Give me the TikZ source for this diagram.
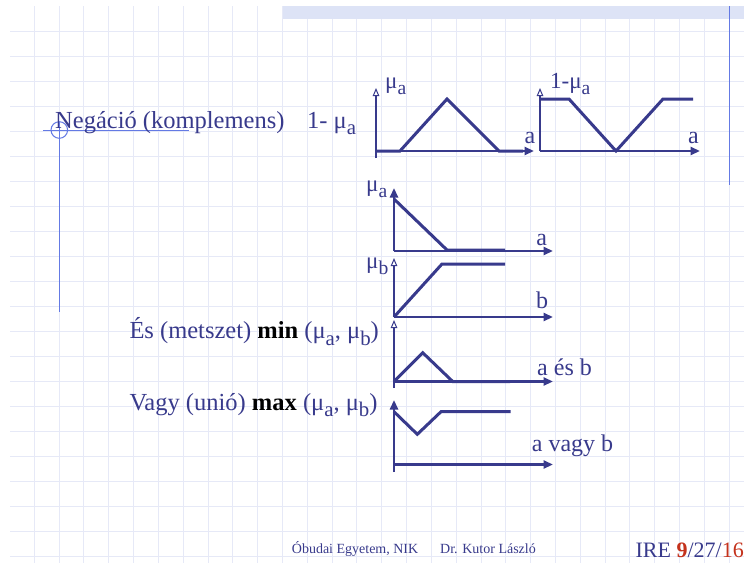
\documentclass[tikz,border=0pt]{standalone}
\usepackage{fontspec}
\setmainfont{Liberation Serif}
\usepackage{graphicx}
\usetikzlibrary{arrows.meta}
\definecolor{navy}{RGB}{56,58,140}
\definecolor{gridc}{RGB}{230,233,247}
\definecolor{barc}{RGB}{221,227,246}
\definecolor{accent}{RGB}{100,122,228}
\definecolor{redc}{RGB}{196,50,28}
\newcommand{\sbs}[1]{\raisebox{-0.28em}{\scalebox{0.85}{#1}}}
\tikzset{
  gridline/.style={draw=gridc, line width=1pt},
  accentline/.style={draw=accent, line width=1pt},
  txt/.style={inner sep=0pt, anchor=base west, text=navy, font=\fontsize{24.5}{28}\selectfont},
  mulbl/.style={inner sep=0pt, anchor=base west, text=navy, font=\fontsize{23}{26}\selectfont},
  axlbl/.style={inner sep=0pt, anchor=base, text=navy, font=\fontsize{24}{28}\selectfont},
  axisarrow/.style={draw=navy, line width=2.3pt, -{Triangle[length=9.5pt,width=8pt]}},
  axisopen/.style={draw=navy, line width=2.3pt, -{Triangle[open,length=8pt,width=6.5pt,line width=1pt]}},
  curve/.style={draw=navy, line width=3pt, line join=miter},
  foot/.style={inner sep=0pt, text=navy, font=\fontsize{14}{16}\selectfont},
}
\begin{document}
\begin{tikzpicture}[x=1pt,y=-1pt]
\useasboundingbox (0,0) rectangle (744,563);
\fill[white] (0,0) rectangle (744,563);
% grid
\foreach \k in {0,...,21} \draw[gridline] (10,31.5+25*\k) -- (744,31.5+25*\k);
\foreach \k in {0,...,28} \draw[gridline] (34.3+24.82*\k,6) -- (34.3+24.82*\k,563);
% top bar
\fill[barc] (283,5.7) rectangle (744,18.7);
% accent lines
\draw[accentline] (729.3,6) -- (729.3,185);
\draw[accentline] (59.3,122) -- (59.3,312);
\draw[accentline] (43.3,130) -- (189,130);
\draw[accentline] (59.3,130) circle (8.3);

% texts
\node[txt] (neg) at (55,128) {Negáció (komplemens)};
\node[txt] (neg1) at (307,128) {1- μ\sbs{a}};
\node[txt] (es) at (129.3,338.3) {És (metszet) \textcolor{black}{\textbf{min}} (μ\sbs{a}, μ\sbs{b})};
\node[txt] (vagy) at (129.3,410) {Vagy (unió) \textcolor{black}{\textbf{max}} (μ\sbs{a}, μ\sbs{b})};

% plot 1
\coordinate (p1o) at (376,151);
\coordinate (p1b) at (376,158);
\coordinate (p1t) at (376,88);
\coordinate (p1r) at (534,151);
\draw[axisopen] (p1b) -- (p1t);
\draw[axisarrow] (p1o) -- (p1r);
\draw[curve] (p1o) -- (400,151) -- (447,99) -- (499,151) -- (523,151);
\node[mulbl] (mu1) at (385,88) {μ\sbs{a}};
\node[axlbl] (a1) at (530,143) {a};

% plot 2
\coordinate (p2o) at (540,151);
\coordinate (p2t) at (540,88);
\coordinate (p2r) at (700,151);
\draw[axisopen] (p2o) -- (p2t);
\draw[axisarrow] (p2o) -- (p2r);
\draw[curve] (540,99) -- (569,99) -- (616,151) -- (663,99) -- (693,99);
\node[mulbl] (mu2) at (550,88) {1-μ\sbs{a}};
\node[axlbl] (a2) at (693.5,143) {a};

% plot 3
\coordinate (p3o) at (394,251);
\coordinate (p3t) at (394,188);
\coordinate (p3r) at (553,251);
\draw[axisarrow] (p3o) -- (p3t);
\draw[axisarrow] (p3o) -- (p3r);
\draw[curve] (394,199) -- (447,250) -- (505,250);
\node[mulbl] (mu3) at (366,191) {μ\sbs{a}};
\node[axlbl] (a3) at (541.7,245) {a};

% plot 4
\coordinate (p4o) at (394,317);
\coordinate (p4t) at (394,258);
\coordinate (p4r) at (553,317);
\draw[axisopen] (p4o) -- (p4t);
\draw[axisarrow] (p4o) -- (p4r);
\draw[curve] (p4o) -- (442,264) -- (505,264);
\node[mulbl] (mu4) at (366,268) {μ\sbs{b}};
\node[axlbl] (b4) at (542,308) {b};

% plot 5
\coordinate (p5o) at (394,381.5);
\coordinate (p5b) at (394,388);
\coordinate (p5t) at (394,320);
\coordinate (p5r) at (553,381.5);
\draw[axisopen] (p5b) -- (p5t);
\draw[axisarrow] (p5o) -- (p5r);
\draw[curve] (p5o) -- (422.7,352.7) -- (452.7,381.5) -- (510,381.5);
\node[axlbl, anchor=base west] (ab5) at (537,375) {a és b};

% plot 6
\coordinate (p6o) at (394,464.5);
\coordinate (p6b) at (394,472);
\coordinate (p6t) at (394,400);
\coordinate (p6r) at (553,464.5);
\draw[axisarrow] (p6b) -- (p6t);
\draw[axisarrow] (p6o) -- (p6r);
\draw[curve] (394,411.7) -- (417.3,434.3) -- (441,411.7) -- (510.7,411.7);
\node[axlbl, anchor=base west] (ab6) at (531.7,451.7) {a vagy b};

% footer
\node[foot, anchor=base west] (f1) at (291.7,553) {Óbudai Egyetem, NIK};
\node[foot, anchor=base west] (f2) at (440,553) {Dr. Kutor László};
\node[inner sep=0pt, anchor=base east, font=\fontsize{22}{24}\selectfont] (f3) at (744,557)
  {\textcolor{navy}{IRE }\textcolor{redc}{\textbf{9}}\textcolor{navy}{/27/}\textcolor{redc}{16}};
\end{tikzpicture}
\end{document}
